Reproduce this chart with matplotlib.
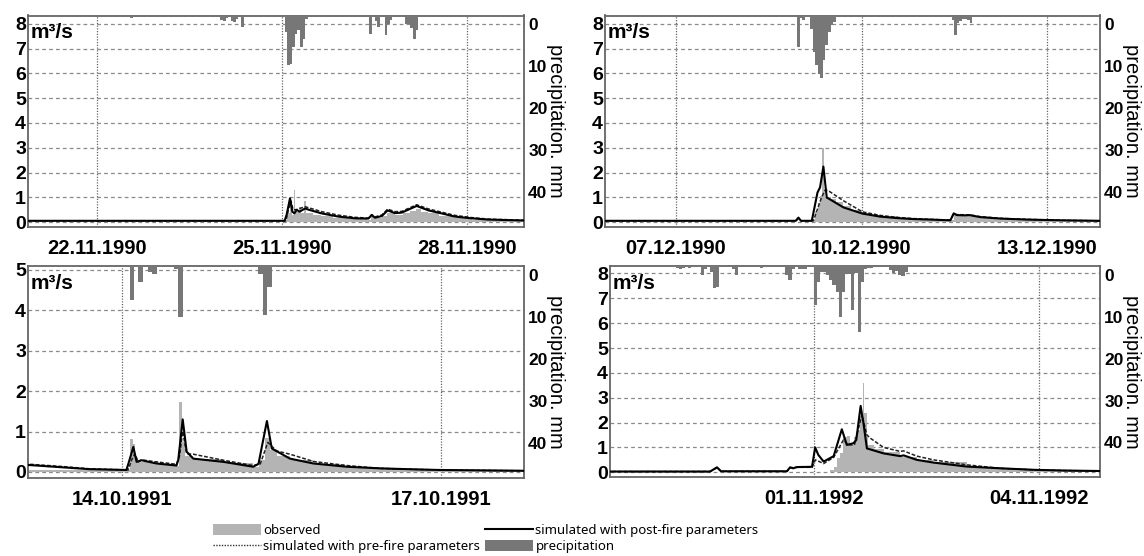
import numpy as np
import matplotlib
matplotlib.use("Agg")
import matplotlib.pyplot as plt
from matplotlib.patches import Patch
from matplotlib.lines import Line2D
from matplotlib.transforms import ScaledTranslation
from matplotlib.font_manager import FontProperties

# ---------------- data (hours after the base date) ----------------
# Panel 1: Nov 1990
p1_base = "1990-11-22T00:00"
p1_ticks = ["1990-11-22", "1990-11-25", "1990-11-28"]
p1_rain_h = [13, 48, 49, 50, 52, 53, 54, 56, 73, 74, 75, 76, 77, 78, 79, 80, 81,
             106, 108, 109, 112, 113, 114, 120, 121, 122, 123, 124]
p1_rain_mm = [0.5, 1.0, 1.2, 0.6, 1.4, 1.5, 0.8, 2.7, 4.0, 11.9, 11.6, 7.5, 4.3, 3.5, 7.4, 5.5, 0.8,
              4.3, 1.2, 2.7, 4.6, 2.0, 1.0, 2.1, 2.1, 3.0, 5.7, 3.5]
p1_obs_h = [-27, 73.5, 74, 75, 76, 76.5, 77.2, 78.5, 79.2, 80.7, 81.3, 84, 87, 92, 98, 105,
            106.5, 108, 111, 113, 116, 119, 122, 124, 126, 129, 133, 139, 146, 152, 160, 167]
p1_obs_q = [0.02, 0.1, 0.35, 0.82, 0.3, 1.3, 0.42, 0.62, 0.38, 0.86, 0.38, 0.3, 0.24, 0.17, 0.12, 0.1,
            0.2, 0.15, 0.25, 0.35, 0.3, 0.35, 0.45, 0.52, 0.42, 0.35, 0.25, 0.15, 0.1, 0.07, 0.05, 0.05]
p1_pre_h = [-27, 73.5, 74.5, 75.5, 76.3, 77.5, 81.0, 82.3, 87.4, 93.9, 100.4, 105.6, 106.9, 108.2,
            110.8, 113.1, 116.0, 118.6, 124.4, 129.0, 134.1, 139.3, 145.8, 152.3, 167]
p1_pre_q = [0.05, 0.05, 0.5, 0.85, 0.5, 0.5, 0.62, 0.58, 0.42, 0.28, 0.19, 0.16, 0.3, 0.21,
            0.28, 0.52, 0.42, 0.43, 0.7, 0.53, 0.4, 0.27, 0.18, 0.12, 0.07]
p1_post_h = [-27, 73.0, 73.8, 75.1, 76.0, 76.8, 77.7, 78.8, 81.0, 82.3, 87.4, 93.9, 100.4, 105.6,
             106.9, 108.2, 110.8, 113.1, 116.0, 118.6, 124.4, 129.0, 134.1, 139.3, 145.8, 152.3, 167]
p1_post_q = [0.05, 0.05, 0.3, 0.96, 0.42, 0.35, 0.49, 0.42, 0.55, 0.5, 0.35, 0.22, 0.15, 0.14,
             0.28, 0.175, 0.24, 0.47, 0.36, 0.38, 0.65, 0.47, 0.35, 0.22, 0.15, 0.1, 0.06]

# Panel 2: Dec 1990
p2_base = "1990-12-07T00:00"
p2_ticks = ["1990-12-07", "1990-12-10", "1990-12-13"]
p2_rain_h = [47, 48, 49, 50, 52, 53, 54, 55, 56, 57, 58, 59, 60, 61,
             107, 108, 109, 110, 111, 112, 113, 114]
p2_rain_mm = [7.5, 0.5, 1.1, 0.3, 3.1, 8.7, 11.9, 13.9, 14.9, 10.7, 7.1, 3.9, 2.3, 1.6,
              1.0, 4.6, 1.8, 1.2, 0.8, 0.8, 1.0, 1.9]
p2_obs_h = [-28, 53.0, 54, 55, 56, 56.8, 57.4, 58, 60, 62, 65, 68, 72, 76, 80, 86, 92, 98,
            106, 107.8, 110, 114, 118, 126, 136, 150, 165]
p2_obs_q = [0.02, 0.1, 0.4, 0.75, 1.05, 3.0, 1.26, 1.0, 0.92, 0.8, 0.65, 0.5, 0.36, 0.3, 0.24,
            0.17, 0.13, 0.1, 0.07, 0.3, 0.25, 0.25, 0.18, 0.12, 0.08, 0.05, 0.04]
p2_pre_h = [-28, 46.5, 47.5, 48.5, 53.3, 56.5, 57.9, 59.2, 65.0, 72.4, 79.2, 85.7, 92.2, 98.6,
            106.5, 107.8, 109, 114, 118, 126, 136, 150, 165]
p2_pre_q = [0.05, 0.05, 0.15, 0.05, 0.05, 1.0, 1.3, 1.26, 0.86, 0.41, 0.27, 0.19, 0.14, 0.11,
            0.08, 0.33, 0.3, 0.29, 0.22, 0.15, 0.11, 0.07, 0.05]
p2_post_h = [-28, 46.5, 47.5, 48.5, 52.7, 54.9, 55.9, 57.2, 58.5, 59.2, 65.0, 72.4, 79.2, 85.7,
             92.2, 98.6, 106.5, 107.8, 109, 112, 114, 118, 126, 136, 150, 165]
p2_post_q = [0.05, 0.05, 0.18, 0.05, 0.05, 1.19, 1.4, 2.24, 0.99, 0.95, 0.59, 0.34, 0.22, 0.16,
             0.12, 0.1, 0.07, 0.35, 0.28, 0.27, 0.28, 0.2, 0.14, 0.1, 0.07, 0.05]

# Panel 3: Oct 1991
p3_base = "1991-10-14T00:00"
p3_ticks = ["1991-10-14", "1991-10-17"]
p3_rain_h = [1.7, 3.7, 5.8, 6.8, 11.7, 12.7, 30.8, 31.8, 32.8]
p3_rain_mm = [8.2, 3.8, 1.5, 2.0, 0.6, 12.1, 1.8, 11.7, 5.0]
p3_obs_h = [-22, 1.0, 1.7, 2.4, 3.0, 4.0, 8, 12.3, 12.9, 13.5, 14.3, 16, 22.9, 29.6, 31.0,
            32.3, 33.5, 35, 38, 43, 50, 58, 66, 72, 91]
p3_obs_q = [0.05, 0.05, 0.82, 0.7, 0.3, 0.25, 0.2, 0.15, 1.73, 0.73, 0.4, 0.33, 0.22, 0.12, 0.3,
            0.85, 0.55, 0.4, 0.3, 0.2, 0.13, 0.08, 0.06, 0.05, 0.04]
p3_pre_h = [-22, -14, -7.4, 1.4, 2.2, 2.9, 3.7, 4.4, 7.8, 12.3, 13.0, 13.7, 14.6, 16.1, 22.9,
            29.6, 31.2, 32.9, 34.9, 37.9, 43.2, 50.7, 58.2, 65.7, 71.7, 91]
p3_pre_q = [0.2, 0.14, 0.08, 0.05, 0.3, 0.45, 0.25, 0.3, 0.25, 0.19, 0.4, 1.0, 0.45, 0.44, 0.29,
            0.16, 0.2, 0.73, 0.52, 0.44, 0.26, 0.16, 0.09, 0.066, 0.05, 0.03]
p3_post_h = [-22, -14, -7.4, 1.0, 1.43, 2.56, 3.3, 4.4, 7.8, 12.3, 12.7, 13.7, 14.6, 16.1, 22.9,
             29.6, 30.8, 32.7, 33.8, 37.9, 43.2, 50.7, 58.2, 65.7, 71.7, 91]
p3_post_q = [0.18, 0.12, 0.07, 0.05, 0.2, 0.62, 0.25, 0.29, 0.21, 0.16, 0.3, 1.3, 0.5, 0.33, 0.25,
             0.13, 0.2, 1.26, 0.58, 0.33, 0.21, 0.13, 0.09, 0.066, 0.05, 0.03]

# Panel 4: Nov 1992
p4_base = "1992-11-01T00:00"
p4_ticks = ["1992-11-01", "1992-11-04"]
p4_rain_h = [-45, -44, -43, -42, -40, -36, -35, -33, -32, -31, -26, -25, -17, -9, -8, -7, -5, -4, -3,
             0, 1, 2, 3, 4, 5, 6, 7, 8, 9, 10, 11, 12, 13, 14, 15, 16, 17, 18, 24, 25, 26, 27, 28, 29]
p4_rain_mm = [0.3, 0.5, 0.8, 0.4, 0.5, 2.2, 0.6, 1.4, 5.2, 5.0, 0.8, 2.2, 0.5, 2.2, 3.4, 0.7, 0.6, 0.8, 0.7,
              9.4, 3.8, 1.5, 1.5, 2.2, 3.4, 4.6, 6.2, 12.1, 6.2, 1.8, 1.8, 10.6, 1.6, 15.7, 3.8, 0.6, 0.5, 0.4,
              1.0, 1.6, 1.2, 2.2, 2.4, 1.4]
p4_obs_h = [-66, 5.3, 6.4, 7.4, 8.5, 9.5, 10.6, 11.7, 13.0, 13.8, 14.8, 15.7, 16.2, 17.0, 17.5,
            19.1, 22.3, 27.6, 32.9, 38.2, 48.8, 59.5, 70, 80, 92]
p4_obs_q = [0.0, 0.1, 0.23, 0.56, 0.76, 1.42, 1.46, 1.1, 1.4, 1.7, 2.23, 3.58, 2.37, 1.4, 1.09,
            0.95, 0.83, 0.63, 0.5, 0.43, 0.23, 0.15, 0.1, 0.06, 0.05]
p4_pre_h = [-66, -33, -30.8, -29.5, -8.5, -7.5, -5.3, -0.5, 0.6, 3.2, 6.4, 9.5, 11.0, 13.0, 15.4,
            17.0, 18.1, 22.3, 27.6, 28.7, 32.9, 38.2, 48.8, 59.5, 70, 80, 92]
p4_pre_q = [0.03, 0.03, 0.18, 0.04, 0.04, 0.18, 0.2, 0.2, 0.5, 0.35, 0.6, 1.3, 1.1, 1.1, 2.31,
            1.5, 1.37, 1.0, 0.84, 0.86, 0.65, 0.5, 0.3, 0.16, 0.1, 0.07, 0.05]
p4_post_h = [-66, -33, -30.8, -29.5, -8.5, -7.5, -6.5, -5.3, -0.5, 0.5, 1.5, 3.2, 6.4, 9.0, 10.6,
             12.7, 13.6, 15.0, 15.9, 17.0, 22.3, 27.6, 28.7, 32.9, 38.2, 48.8, 59.5, 70, 80, 92]
p4_post_q = [0.03, 0.03, 0.2, 0.04, 0.04, 0.2, 0.16, 0.21, 0.22, 1.0, 0.7, 0.43, 0.65, 1.73, 1.1,
             1.17, 1.3, 2.67, 1.97, 0.96, 0.76, 0.65, 0.68, 0.5, 0.39, 0.23, 0.16, 0.1, 0.07, 0.05]

legend_labels = ["observed", "simulated with pre-fire parameters",
                 "simulated with post-fire parameters", "precipitation"]
precip_label = "precipitation. mm"
unit_label = "m\u00b3/s"

# ---------------- styling ----------------
C_OBS = "#b4b4b4"
C_RAIN = "#777777"
W, H = 1144, 556
fig = plt.figure(figsize=(W / 100, H / 100), dpi=100)
YTICK_FP = FontProperties(family="Liberation Sans", weight="bold", size=14)
RTICK_FP = FontProperties(family="Liberation Sans", weight="bold", size=12.5)
XTICK_FP = FontProperties(family="Liberation Sans", weight="bold", size=14.5)


def to_time(base, hours):
    mins = np.round(np.asarray(hours, float) * 60).astype(int)
    return np.datetime64(base) + mins * np.timedelta64(1, "m")


def panel(px, base, xlim_h, ylim, yticks, ticks, rain_h, rain_mm,
          obs_h, obs_q, pre_h, pre_q, post_h, post_q, rain_top):
    l, r, t, b = px
    ax = fig.add_axes([l / W, 1 - b / H, (r - l) / W, (b - t) / H])
    ax.set_axisbelow(True)
    ax.fill_between(to_time(base, obs_h), obs_q, 0, step="post", color=C_OBS, lw=0, zorder=1)
    ax.plot(to_time(base, pre_h), pre_q, color="#222222", lw=1.1, ls=(0, (2.5, 1.2)), zorder=3)
    ax.plot(to_time(base, post_h), post_q, color="black", lw=1.5, zorder=4)
    ax.set_xlim(to_time(base, [xlim_h[0]])[0], to_time(base, [xlim_h[1]])[0])
    ax.set_ylim(*ylim)
    ax.set_yticks(yticks)
    ax.set_yticklabels([str(v) for v in yticks], fontproperties=YTICK_FP)
    ax.set_xticks([np.datetime64(d) for d in ticks])
    ax.set_xticklabels([d[8:10] + "." + d[5:7] + "." + d[0:4] for d in ticks],
                       fontproperties=XTICK_FP)
    ax.tick_params(axis="both", length=0)
    ax.tick_params(axis="y", pad=1.5)
    ax.tick_params(axis="x", pad=9)
    ax.grid(axis="y", color="#8a8a8a", lw=0.9, ls=(0, (3, 2.5)))
    ax.grid(axis="x", color="#666666", lw=0.9, ls=(0, (1, 1.2)))
    for s in ax.spines.values():
        s.set_color("#666666")
        s.set_linewidth(1.3)
    ax.text(0, 1, unit_label, transform=ax.transAxes + ScaledTranslation(3 / 100, -8 / 100, fig.dpi_scale_trans),
            ha="left", va="top", family="Liberation Sans", weight="bold", size=15)

    ax2 = ax.twinx()
    ax2.bar(to_time(base, rain_h), rain_mm, width=1 / 24, align="edge", color=C_RAIN, lw=0, zorder=2)
    ax2.set_ylim(rain_top, 0)
    rt = [0, 10, 20, 30, 40]
    ax2.set_yticks(rt)
    ax2.set_yticklabels([str(v) for v in rt], fontproperties=RTICK_FP)
    ax2.tick_params(axis="y", length=0, pad=3)
    for s in ax2.spines.values():
        s.set_visible(False)
    ax2.set_ylabel(precip_label, rotation=270, family="Liberation Sans", size=14.5, va="center")
    ax2.yaxis.set_label_coords(1 + 31.5 / (r - l), 0.5)
    off = ScaledTranslation(0, -9 / 100, fig.dpi_scale_trans)
    for lab in ax2.get_yticklabels():
        lab.set_transform(lab.get_transform() + off)
    return ax


panel((28, 524, 15.5, 227), p1_base, (-26.9, 166.2), (-0.2, 8.34), list(range(0, 9)), p1_ticks,
      p1_rain_h, p1_rain_mm, p1_obs_h, p1_obs_q, p1_pre_h, p1_pre_q, p1_post_h, p1_post_q, 50.4)
panel((605, 1100, 15.5, 227), p2_base, (-27.6, 164.6), (-0.2, 8.34), list(range(0, 9)), p2_ticks,
      p2_rain_h, p2_rain_mm, p2_obs_h, p2_obs_q, p2_pre_h, p2_pre_q, p2_post_h, p2_post_q, 50.4)
panel((28, 524, 266, 477.5), p3_base, (-21.2, 90.7), (-0.136, 5.09), list(range(0, 6)), p3_ticks,
      p3_rain_h, p3_rain_mm, p3_obs_h, p3_obs_q, p3_pre_h, p3_pre_q, p3_post_h, p3_post_q, 50.4)
panel((610, 1100, 266, 477), p4_base, (-64.9, 91.3), (-0.19, 8.3), list(range(0, 9)), p4_ticks,
      p4_rain_h, p4_rain_mm, p4_obs_h, p4_obs_q, p4_pre_h, p4_pre_q, p4_post_h, p4_post_q, 50.4)

handles = [Patch(facecolor=C_OBS, edgecolor="none"),
           Line2D([], [], color="#333333", lw=1.0, ls=(0, (1, 1))),
           Line2D([], [], color="black", lw=1.5),
           Patch(facecolor=C_RAIN, edgecolor="none")]
fig.legend(handles, legend_labels, ncol=2, loc="upper left",
           bbox_to_anchor=(213 / W, 1 - 524 / H), frameon=False,
           prop=dict(family="Noto Sans", size=9.5),
           handlelength=3.6, handleheight=0.9, handletextpad=0.2,
           columnspacing=0.4, labelspacing=0.2, borderpad=0, borderaxespad=0)

fig.savefig("out.png", dpi=100)
